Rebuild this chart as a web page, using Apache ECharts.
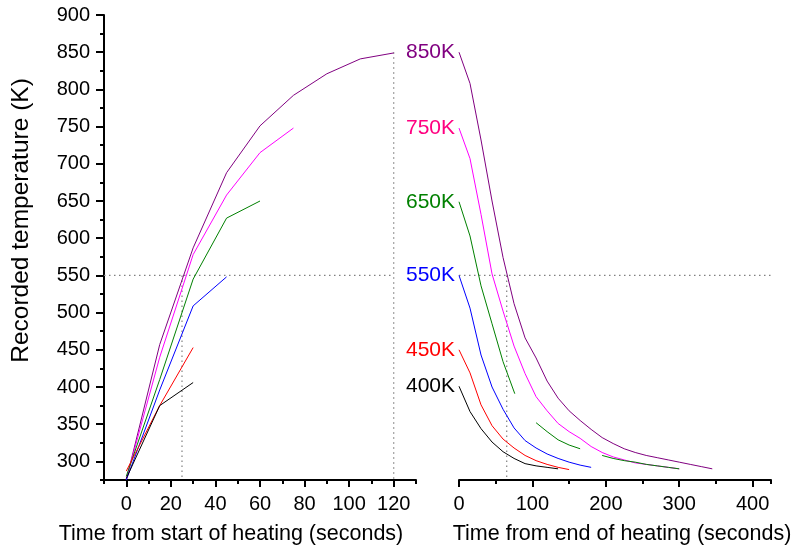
<!DOCTYPE html>
<html>
<head>
<meta charset="utf-8">
<script src="https://cdn.jsdelivr.net/npm/echarts@6/dist/echarts.min.js"></script>
<style>
html, body { margin: 0; padding: 0; background: #fff; }
#chart { width: 802px; height: 552px; }
</style>
</head>
<body>
<div id="chart"></div>
<script>
// heating curves: [seconds from start, K]
var heat850 = [[0,275],[15,457],[30,587],[45,688],[60,751],[75,792],[90,821],[105,841],[120,849]];
var heat750 = [[0,276],[15,440],[30,578],[45,658],[60,715],[75,748]];
var heat650 = [[0,280],[15,410],[30,545],[45,627],[60,650]];
var heat550 = [[0,275],[15,396],[30,509],[45,548]];
var heat450 = [[0,287],[15,375],[30,453]];
var heat400 = [[0,277],[15,375],[30,406]];

// cooling curves: [seconds from end, K]  ('-' = gap)
var cool850 = [[0,850],[15,808],[30,732],[45,650],[60,574],[75,512],[90,466],[105,439],[120,408],[135,385],[150,368],[165,355],[180,343],[195,332],[210,324],[225,317],[240,312],[255,308],[270,305],[285,302],[300,299],[315,296],[330,293],[345,290]];
var cool750 = [[0,748],[15,707],[30,632],[45,552],[60,502],[75,455],[90,418],[105,387],[120,368],[135,351],[150,340],[165,331],[180,320],[195,312],[210,306],[225,302],[240,298],[255,296],[270,294],[285,292],[300,290]];
var cool650 = [[0,649],[15,603],[30,536],[45,485],[60,434],[76,391],[90,'-'],[105,352],[120,340],[135,329],[150,322],[165,317],[180,'-'],[195,308],[210,304],[225,301],[240,299],[255,296],[270,294],[285,292],[300,290]];
var cool550 = [[0,550],[15,506],[30,443],[45,400],[60,370],[75,345],[90,328],[105,318],[120,310],[135,304],[150,299],[165,295],[180,292]];
var cool450 = [[0,450],[15,419],[30,376],[45,348],[60,330],[75,318],[90,308],[105,301],[120,296],[135,292],[150,289]];
var cool400 = [[0,401],[15,367],[30,344],[45,326],[60,313],[75,304],[90,297],[105,294],[120,292],[135,290]];

var curveNames = ['850K','750K','650K','550K','450K','400K'];
var lineColors = ['#800080','#ff00ff','#008000','#0000ff','#ff0000','#000000'];
var labelColors = ['#800080','#ff0080','#008000','#0000ff','#ff0000','#000000'];

// dotted guides
var guideLeftH = [[-10,550],[120,550]];
var guideLeft25 = [[25,550],[25,275]];
var guideLeft120 = [[120,850],[120,275]];
var guideRight65 = [[65,550],[65,275]];
var guideRightH = [[0,550],[461,550]];

var yTicks = [300,350,400,450,500,550,600,650,700,750,800,850,900];
var xTicksLeft = [0,20,40,60,80,100,120];
var xTicksRight = [0,100,200,300,400];

var font = 'Liberation Sans, Arial, Helvetica, sans-serif';
var axisBlack = {onZero: false, lineStyle: {color: '#000', width: 2}};

var chart = echarts.init(document.getElementById('chart'));

var heats = [heat850, heat750, heat650, heat550, heat450, heat400];
var cools = [cool850, cool750, cool650, cool550, cool450, cool400];

var series = [];
function guide(data, xi, yi) {
    series.push({
        type: 'line', data: data, xAxisIndex: xi, yAxisIndex: yi,
        symbol: 'none', silent: true, clip: false, z: 1,
        lineStyle: {color: '#808080', width: 1.2, type: [1.5, 3.5]}
    });
}
guide(guideLeftH, 0, 0);
guide(guideLeft25, 0, 0);
guide(guideLeft120, 0, 0);
guide(guideRight65, 2, 2);
guide(guideRightH, 2, 2);

for (var i = 0; i < heats.length; i++) {
    series.push({
        name: curveNames[i] + ' heat', type: 'line', data: heats[i],
        xAxisIndex: 0, yAxisIndex: 0, symbol: 'none', z: 3,
        lineStyle: {color: lineColors[i], width: 1}
    });
    series.push({
        name: curveNames[i] + ' cool', type: 'line', data: cools[i],
        xAxisIndex: 2, yAxisIndex: 2, symbol: 'none', z: 3,
        connectNulls: false,
        lineStyle: {color: lineColors[i], width: 1},
        markPoint: {
            symbol: 'circle', symbolSize: 0, silent: true, animation: false,
            label: {
                show: true, position: 'left', distance: 4,
                color: labelColors[i], fontSize: 21, fontFamily: font
            },
            data: [{coord: cools[i][0], value: curveNames[i],
                    label: {formatter: curveNames[i]}}]
        }
    });
}

chart.setOption({
    animation: false,
    backgroundColor: '#fff',
    textStyle: {fontFamily: font},
    grid: [
        {left: 104, top: 15, width: 312, height: 465},
        {left: 459, top: 15, width: 312, height: 465}
    ],
    xAxis: [
        {   // left minor ticks
            type: 'value', gridIndex: 0, min: -10, max: 130, interval: 10,
            position: 'bottom',
            axisLine: axisBlack, splitLine: {show: false},
            axisTick: {length: 4, lineStyle: {color: '#000', width: 2}},
            axisLabel: {show: false}
        },
        {   // left major ticks + labels
            type: 'value', gridIndex: 0, min: -10, max: 130,
            position: 'bottom',
            axisLine: {show: false, onZero: false}, splitLine: {show: false},
            axisTick: {length: 7, customValues: xTicksLeft, lineStyle: {color: '#000', width: 2}},
            axisLabel: {customValues: xTicksLeft, color: '#000', fontSize: 20, margin: 14, fontFamily: font},
            name: 'Time from start of heating (seconds)', nameLocation: 'middle', nameGap: 43,
            nameTextStyle: {color: '#000', fontSize: 21.5, fontFamily: font, padding: [0, 58, 0, 0]}
        },
        {   // right minor ticks
            type: 'value', gridIndex: 1, min: 0, max: 425, interval: 50,
            position: 'bottom',
            axisLine: axisBlack, splitLine: {show: false},
            axisTick: {length: 4, lineStyle: {color: '#000', width: 2}},
            axisLabel: {show: false}
        },
        {   // right major ticks + labels
            type: 'value', gridIndex: 1, min: 0, max: 425,
            position: 'bottom',
            axisLine: {show: false, onZero: false}, splitLine: {show: false},
            axisTick: {length: 7, customValues: xTicksRight, lineStyle: {color: '#000', width: 2}},
            axisLabel: {customValues: xTicksRight, color: '#000', fontSize: 20, margin: 14, fontFamily: font},
            name: 'Time from end of heating (seconds)', nameLocation: 'middle', nameGap: 43,
            nameTextStyle: {color: '#000', fontSize: 21.5, fontFamily: font, padding: [0, 0, 0, 14]}
        }
    ],
    yAxis: [
        {   // minor ticks
            type: 'value', gridIndex: 0, min: 275, max: 900, interval: 25,
            position: 'left',
            axisLine: axisBlack, splitLine: {show: false},
            axisTick: {length: 4, lineStyle: {color: '#000', width: 2}},
            axisLabel: {show: false}
        },
        {   // major ticks + labels
            type: 'value', gridIndex: 0, min: 275, max: 900,
            position: 'left',
            axisLine: {show: false, onZero: false}, splitLine: {show: false},
            axisTick: {length: 8, customValues: yTicks, lineStyle: {color: '#000', width: 2}},
            axisLabel: {customValues: yTicks, color: '#000', fontSize: 20, margin: 14, fontFamily: font},
            name: 'Recorded temperature (K)', nameLocation: 'middle', nameGap: 70, nameRotate: 90,
            nameTextStyle: {color: '#000', fontSize: 24.5, fontFamily: font, padding: [0, 0, 0, 54]}
        },
        {
            type: 'value', gridIndex: 1, min: 275, max: 900, show: false
        }
    ],
    series: series
});
</script>
</body>
</html>
